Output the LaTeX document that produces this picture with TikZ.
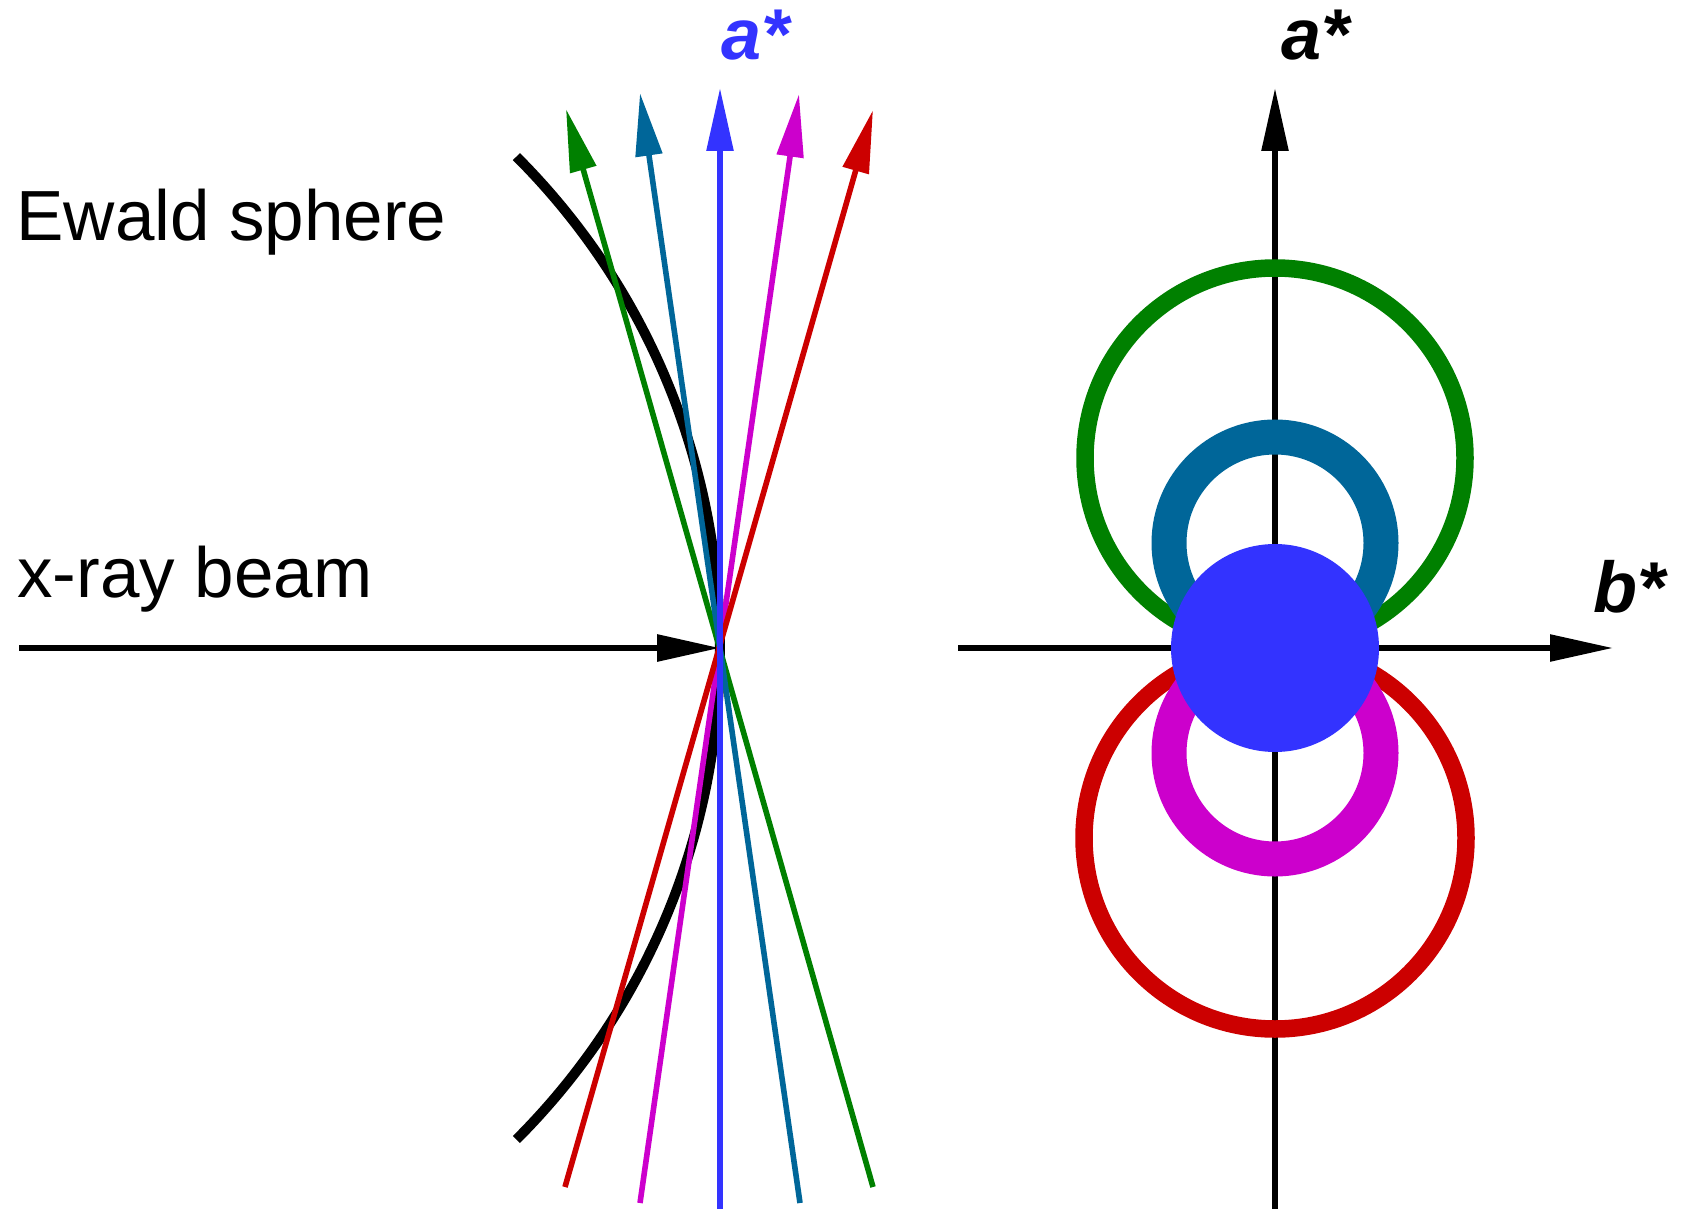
\documentclass[tikz,border=0pt]{standalone}
\usepackage{fontspec}
\setmainfont{Liberation Sans}
\usetikzlibrary{arrows.meta}
\definecolor{cgreen}{HTML}{008000}
\definecolor{cteal}{HTML}{006699}
\definecolor{cblue}{HTML}{3333FF}
\definecolor{cmag}{HTML}{CC00CC}
\definecolor{cred}{HTML}{CC0000}
\tikzset{
  tipA/.style={-{Triangle[length=31.5pt,width=13pt]}},
  ray/.style={tipA, line width=2.8pt},
  axisline/.style={tipA, line width=2.8pt, black},
  ring/.style={line width=8.75pt},
  fatring/.style={line width=17.5pt},
  lbl/.style={inner sep=0pt, anchor=base west, font=\fontsize{35.5pt}{40pt}\selectfont},
  axlbl/.style={inner sep=0pt, anchor=base west, font=\fontsize{36pt}{40pt}\selectfont\bfseries\itshape}
}
\begin{document}
\begin{tikzpicture}[x=0.5pt,y=-0.5pt]
\useasboundingbox (0,0) rectangle (1686,1209);
% ---------- left panel ----------
\coordinate (C) at (720,648);
\coordinate (beamS) at (19,648);
\coordinate (ewT) at (516.4,156.6);
\coordinate (gT) at (566,109);  \coordinate (gB) at (873,1187);
\coordinate (tT) at (640,93);   \coordinate (tB) at (800,1203);
\coordinate (bT) at (720,88);   \coordinate (bB) at (720,1209);
\coordinate (mT) at (799,94);   \coordinate (mB) at (640,1203);
\coordinate (rT) at (873,110);  \coordinate (rB) at (565,1187);

\draw[line width=5pt] (ewT) arc[start angle=-45, end angle=45, radius=695];
\draw[tipA, line width=3pt] (beamS) -- (C);
\draw[ray, cgreen] (gB) -- (gT);
\draw[ray, cteal] (tB) -- (tT);
\draw[ray, cmag] (mB) -- (mT);
\draw[ray, cred] (rB) -- (rT);
\draw[ray, cblue] (bB) -- (bT);

\node[lbl] (ewald) at (16,241) {Ewald sphere};
\node[lbl] (xray) at (17,597) {x-ray beam};
\node[axlbl, text=cblue] (astarL) at (721,60) {a*};

% ---------- right panel ----------
\coordinate (O) at (1275,648);
\coordinate (vB) at (1275,1209);
\coordinate (vT) at (1275,88);
\coordinate (hL) at (958,648);
\coordinate (hR) at (1613,648);
\draw[axisline] (vB) -- (vT);
\draw[axisline] (hL) -- (hR);

\coordinate (cG) at (1275,458);
\coordinate (cT) at (1275,543);
\coordinate (cM) at (1275,753);
\coordinate (cR) at (1275,838);
\draw[ring, cgreen] (cG) circle[radius=190];
\draw[ring, cred] (cR) circle[radius=191];
\draw[fatring, cteal] (cT) circle[radius=106];
\draw[fatring, cmag] (cM) circle[radius=106];
\fill[cblue] (O) circle[radius=104];

\node[axlbl] (astarR) at (1281,60) {a*};
\node[axlbl] (bstar) at (1593,612) {b*};
\end{tikzpicture}
\end{document}
